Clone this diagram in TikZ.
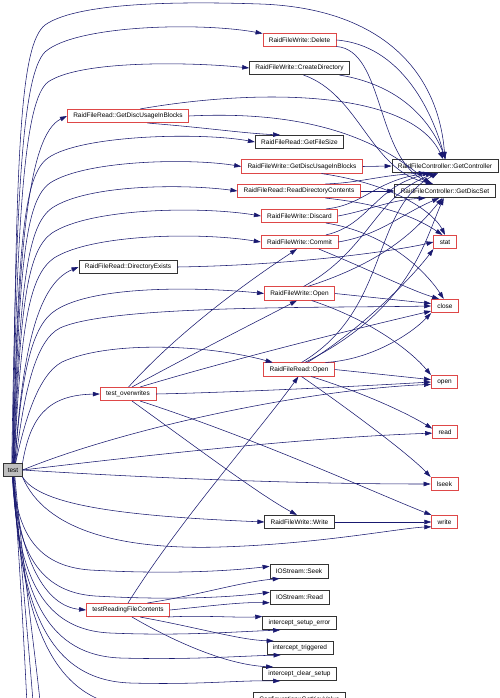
\documentclass[tikz,border=0pt]{standalone}
\usepackage{fontspec}
\setmainfont{Liberation Sans}
\usepackage{xcolor}
\usepackage{tikz}
\usetikzlibrary{arrows.meta}
\definecolor{callblue}{RGB}{25,25,112}
\definecolor{fnred}{RGB}{222,72,72}
\definecolor{fngray}{RGB}{191,191,191}

\begin{document}
\begin{tikzpicture}[x=1pt,y=-1pt,>={Triangle[length=7pt,width=4.5pt]},
  fn/.style={draw=black!80,line width=0.6pt,fill=white,font=\fontsize{6.5}{7}\selectfont,
    inner xsep=6pt,inner ysep=0pt,minimum height=13.5pt},
  fnr/.style={fn,draw=fnred},
  call/.style={->,callblue,line width=0.55pt}]
\path[use as bounding box,clip](0,0)rectangle(500,698);
\fill[white](0,0)rectangle(500,698);

\node[fn,fill=fngray,inner xsep=4pt](test)at(13,470){test};
\node[fnr](del)at(299.5,40){RaidFileWrite::Delete};
\node[fn](cdir)at(299.5,68){RaidFileWrite::CreateDirectory};
\node[fnr](rgdu)at(128,116){RaidFileRead::GetDiscUsageInBlocks};
\node[fn](gfs)at(299.5,142){RaidFileRead::GetFileSize};
\node[fnr](wgdu)at(302,166.5){RaidFileWrite::GetDiscUsageInBlocks};
\node[fnr](rdc)at(299,191){RaidFileRead::ReadDirectoryContents};
\node[fnr](disc)at(299.5,216){RaidFileWrite::Discard};
\node[fnr](cmt)at(299.5,242){RaidFileWrite::Commit};
\node[fn](gctl)at(445,166){RaidFileController::GetController};
\node[fn](gds)at(445,191){RaidFileController::GetDiscSet};
\node[fnr](stat)at(445,242){stat};
\node[fn](dex)at(128,267){RaidFileRead::DirectoryExists};
\node[fnr](wopen)at(299.5,293.5){RaidFileWrite::Open};
\node[fnr](close)at(445,306){close};
\node[fnr](ropen)at(299,369.5){RaidFileRead::Open};
\node[fnr](tow)at(128,394){test\_overwrites};
\node[fnr](open)at(444.5,382){open};
\node[fnr](read)at(445,432){read};
\node[fnr](lseek)at(444.5,484){lseek};
\node[fn](wwrite)at(299.5,522){RaidFileWrite::Write};
\node[fnr](write)at(444.5,522){write};
\node[fn](ioseek)at(299,571.5){IOStream::Seek};
\node[fn](ioread)at(299.5,597.5){IOStream::Read};
\node[fnr](trfc)at(128,610){testReadingFileContents};
\node[fn](ise)at(299.5,623){intercept\_setup\_error};
\node[fn](itrig)at(300,648){intercept\_triggered};
\node[fn](icl)at(299.5,674){intercept\_clear\_setup};
\node[fn](cfg)at(299.5,699.5){Configuration::GetKeyValue};
\coordinate(offa)at(30,770);
\coordinate(offb)at(38,770);
\coordinate(offc)at(46,770);

\draw[call](test.north)..controls(16,150)and(20,45)..(45,25)..controls(80,0)and(200,2)..(260,4)..controls(380,8)and(438,70)..(gctl.north);
\draw[call](test.100)..controls(16,200)and(22,75)..(45,52)..controls(75,25)and(200,22)..(del.170);
\draw[call](test.95)..controls(17,220)and(24,100)..(48,82)..controls(80,60)and(190,62)..(cdir.west);
\draw[call](test.90)..controls(18,250)and(28,135)..(rgdu.west);
\draw[call](test.90)..controls(18,240)and(24,175)..(48,158)..controls(80,135)and(200,132)..(gfs.west);
\draw[call](test.85)..controls(19,260)and(26,200)..(50,183)..controls(85,160)and(190,158)..(wgdu.west);
\draw[call](test.85)..controls(20,280)and(28,225)..(52,208)..controls(88,184)and(185,184)..(rdc.west);
\draw[call](test.80)..controls(20,300)and(28,250)..(52,233)..controls(90,208)and(200,206)..(disc.west);
\draw[call](test.80)..controls(21,320)and(30,275)..(54,258)..controls(92,234)and(200,232)..(cmt.west);
\draw[call](test.75)..controls(22,360)and(35,285)..(dex.west);
\draw[call](test.75)..controls(22,370)and(32,325)..(56,310)..controls(95,285)and(200,287)..(wopen.west);
\draw[call](test.70)..controls(24,390)and(36,340)..(60,328)..controls(110,305)and(320,308)..(close.west);
\draw[call](test.70)..controls(25,420)and(38,375)..(62,362)..controls(110,340)and(210,345)..(ropen.165);
\draw[call](test.north east)..controls(30,420)and(45,395)..(tow.west);
\draw[call](test.east)..controls(120,430)and(300,390)..(open.190);
\draw[call](test.east)..controls(150,455)and(300,438)..(read.185);
\draw[call](test.east)..controls(150,478)and(300,484)..(lseek.west);
\draw[call](test.south east)..controls(40,505)and(120,516)..(wwrite.west);
\draw[call](test.south east)..controls(45,530)and(120,550)..(220,547)..controls(320,544)and(400,528)..(write.200);
\draw[call](test.south)..controls(20,560)and(45,606)..(trfc.west);
\draw[call](test.south)..controls(17,530)and(35,566)..(90,570)..controls(160,574)and(220,572)..(ioseek.170);
\draw[call](test.265)..controls(17,550)and(38,592)..(95,596)..controls(165,600)and(225,598)..(ioread.170);
\draw[call](test.265)..controls(18,580)and(45,630)..(110,633)..controls(180,636)and(230,632)..(ise.200);
\draw[call](test.270)..controls(19,600)and(50,655)..(120,658)..controls(190,660)and(240,656)..(itrig.200);
\draw[call](test.270)..controls(20,620)and(55,680)..(130,683)..controls(200,685)and(240,680)..(icl.200);
\draw[call](test.275)..controls(22,640)and(60,705)..(140,708)..controls(200,710)and(230,705)..(cfg.west);
\draw[call](test.275)..controls(22,600)and(26,680)..(offa);
\draw[call](test.280)..controls(24,600)and(32,680)..(offb);
\draw[call](test.285)..controls(26,600)and(40,680)..(offc);

\draw[call](rgdu.-20)..controls(210,128)and(240,133)..(gfs.160);
\draw[call](rgdu.30)..controls(260,88)and(410,90)..(gctl.105);
\draw[call](rgdu.east)..controls(310,110)and(380,140)..(gds.155);
\draw[call](del.east)..controls(400,45)and(432,110)..(gctl.north);
\draw[call](del.-10)..controls(385,50)and(375,160)..(gds.150);
\draw[call](cdir.-10)..controls(400,85)and(430,120)..(gctl.85);
\draw[call](cdir.-60)..controls(360,95)and(370,170)..(gds.150);
\draw[call](wgdu.east)--(gctl.west);
\draw[call](wgdu.-20)..controls(400,185)and(435,215)..(stat.north);
\draw[call](rdc.east)--(gds.west);
\draw[call](rdc.15)..controls(360,183)and(380,175)..(gctl.200);
\draw[call](rdc.-15)..controls(390,205)and(420,220)..(stat.110);
\draw[call](disc.15)..controls(365,205)and(375,180)..(gctl.205);
\draw[call](disc.east)..controls(370,210)and(390,200)..(gds.200);
\draw[call](disc.-15)..controls(385,232)and(425,270)..(close.100);
\draw[call](cmt.15)..controls(370,225)and(375,185)..(gctl.210);
\draw[call](cmt.east)..controls(380,235)and(400,215)..(gds.230);
\draw[call](cmt.-20)..controls(370,270)and(410,290)..(close.130);
\draw[call](dex.east)..controls(300,265)and(400,250)..(stat.west);
\draw[call](wopen.60)..controls(370,250)and(375,195)..(gctl.220);
\draw[call](wopen.40)..controls(390,260)and(420,225)..(gds.250);
\draw[call](wopen.east)--(close.170);
\draw[call](wopen.-30)..controls(370,320)and(410,350)..(open.north west);
\draw[call](ropen.70)..controls(390,310)and(370,210)..(gctl.225);
\draw[call](ropen.50)..controls(410,310)and(425,240)..(gds.260);
\draw[call](ropen.40)..controls(360,330)and(410,280)..(stat.south west);
\draw[call](ropen.15)..controls(370,360)and(410,335)..(close.south west);
\draw[call](ropen.east)--(open.170);
\draw[call](ropen.-30)..controls(370,395)and(410,415)..(read.165);
\draw[call](ropen.-70)..controls(350,410)and(410,455)..(lseek.north west);
\draw[call](tow.85)..controls(180,330)and(250,280)..(cmt.250);
\draw[call](tow.60)..controls(200,350)and(260,320)..(wopen.250);
\draw[call](tow.30)..controls(230,360)and(350,330)..(close.200);
\draw[call](tow.east)..controls(250,392)and(380,385)..(open.west);
\draw[call](tow.-60)..controls(200,450)and(260,495)..(wwrite.110);
\draw[call](tow.-30)..controls(260,440)and(380,495)..(write.north west);
\draw[call](wwrite.east)--(write.west);
\draw[call](trfc.north)..controls(180,520)and(260,430)..(ropen.265);
\draw[call](trfc.20)..controls(200,595)and(240,582)..(ioseek.200);
\draw[call](trfc.east)..controls(210,606)and(240,602)..(ioread.190);
\draw[call](trfc.-10)..controls(200,615)and(240,618)..(ise.170);
\draw[call](trfc.-30)..controls(200,628)and(240,640)..(itrig.165);
\draw[call](trfc.-60)..controls(180,645)and(230,665)..(icl.165);
\end{tikzpicture}
\end{document}
